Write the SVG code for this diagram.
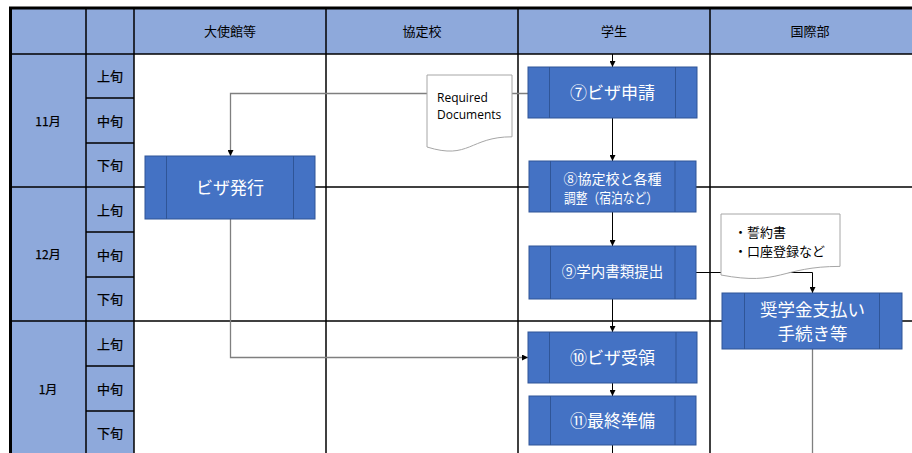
<svg xmlns="http://www.w3.org/2000/svg" width="912" height="453" viewBox="0 0 912 453">
<defs>
<marker id="ah" markerWidth="6" markerHeight="6" refX="6" refY="3" orient="auto" markerUnits="userSpaceOnUse">
<path d="M0,0 L6,3 L0,6 Z" fill="#000"/>
</marker>
<style>
.hdr{fill:#8EA9DB}
.grid{stroke:#000;stroke-width:1.5;fill:none}
.thick{stroke:#000;stroke-width:3;fill:none}
.ht{font-family:"Noto Sans CJK JP","Noto Sans",sans-serif;font-size:13px;fill:#000;text-anchor:middle}
.sub{font-family:"Noto Sans CJK JP","Noto Sans",sans-serif;font-size:13px;fill:#000;text-anchor:middle;stroke:#000;stroke-width:0.25}
.mon{font-family:"Noto Sans CJK JP","Noto Sans",sans-serif;font-size:12px;fill:#000;text-anchor:middle;stroke:#000;stroke-width:0.25}
.box{fill:#4472C4;stroke:#2F5597;stroke-width:1}
.inner{stroke:#2F5597;stroke-width:1}
.bt{font-family:"Noto Sans CJK JP","Noto Sans",sans-serif;fill:#fff;text-anchor:middle}
.doc{fill:#fff;stroke:#A6A6A6;stroke-width:1}
.dt{font-family:"Open Sans","Noto Sans CJK JP",sans-serif;font-size:12px;fill:#000}
.dtj{font-family:"Noto Sans CJK JP",sans-serif;font-size:13px;fill:#000}
.cb{stroke:#000;stroke-width:1;fill:none}
.cg{stroke:#7F7F7F;stroke-width:1.3;fill:none}
</style>
</defs>
<rect width="912" height="453" fill="#fff"/>
<g id="table">
<rect class="hdr" x="10" y="8" width="902" height="46"/>
<rect class="hdr" x="10" y="54" width="124" height="399"/>
<line class="grid" x1="10" y1="54" x2="912" y2="54"/>
<line class="grid" x1="10" y1="187" x2="912" y2="187"/>
<line class="grid" x1="10" y1="321" x2="912" y2="321"/>
<line class="grid" x1="86" y1="98" x2="134" y2="98"/>
<line class="grid" x1="86" y1="143" x2="134" y2="143"/>
<line class="grid" x1="86" y1="232" x2="134" y2="232"/>
<line class="grid" x1="86" y1="277" x2="134" y2="277"/>
<line class="grid" x1="86" y1="366" x2="134" y2="366"/>
<line class="grid" x1="86" y1="411" x2="134" y2="411"/>
<line class="grid" x1="86" y1="8" x2="86" y2="453"/>
<line class="grid" x1="134" y1="8" x2="134" y2="453"/>
<line class="grid" x1="326" y1="8" x2="326" y2="453"/>
<line class="grid" x1="518" y1="8" x2="518" y2="453"/>
<line class="grid" x1="710" y1="8" x2="710" y2="453"/>
<line class="thick" x1="9" y1="8" x2="912" y2="8"/>
<line class="thick" x1="10.5" y1="7" x2="10.5" y2="453"/>
<text class="ht" x="230" y="36">大使館等</text>
<text class="ht" x="422" y="36">協定校</text>
<text class="ht" x="614" y="36">学生</text>
<text class="ht" x="810" y="36">国際部</text>
<text class="mon" x="48" y="126">11月</text>
<text class="mon" x="48" y="259">12月</text>
<text class="mon" x="48" y="394">1月</text>
<text class="sub" x="110" y="81">上旬</text>
<text class="sub" x="110" y="126">中旬</text>
<text class="sub" x="110" y="170">下旬</text>
<text class="sub" x="110" y="215">上旬</text>
<text class="sub" x="110" y="260">中旬</text>
<text class="sub" x="110" y="304">下旬</text>
<text class="sub" x="110" y="349">上旬</text>
<text class="sub" x="110" y="394">中旬</text>
<text class="sub" x="110" y="438">下旬</text>
</g>
<g id="connectors">
<line class="cb" x1="612.5" y1="54" x2="612.5" y2="67" marker-end="url(#ah)"/>
<line class="cb" x1="612.5" y1="118" x2="612.5" y2="161" marker-end="url(#ah)"/>
<line class="cb" x1="612.5" y1="212" x2="612.5" y2="246" marker-end="url(#ah)"/>
<line class="cb" x1="612.5" y1="299" x2="612.5" y2="332" marker-end="url(#ah)"/>
<line class="cb" x1="612.5" y1="383" x2="612.5" y2="396" marker-end="url(#ah)"/>
<line class="cb" x1="612.5" y1="445" x2="612.5" y2="453"/>
<path class="cg" d="M528,93.5 H230.5 V156" marker-end="url(#ah)"/>
<path class="cg" d="M230.5,219 V357.5 H528" marker-end="url(#ah)"/>
<path class="cb" d="M696,272.5 H812.5 V293" marker-end="url(#ah)"/>
<line class="cg" x1="812.5" y1="349" x2="812.5" y2="453"/>
</g>
<g id="doc-required">
<path class="doc" d="M427,75 H512 V136.8 C469.5,136.8 469.5,160.3 427,147 Z"/>
<text class="dt" x="437" y="102">Required</text>
<text class="dt" x="437" y="119">Documents</text>
</g>
<g id="doc-pledge">
<path class="doc" d="M721,214 H840 V266.4 C780.5,266.4 780.5,286.3 721,275 Z"/>
<text class="dtj" x="734" y="237">・誓約書</text>
<text class="dtj" x="734" y="256">・口座登録など</text>
</g>
<g id="visa-issue">
<rect class="box" x="145" y="156" width="170" height="63"/>
<line class="inner" x1="166.5" y1="156" x2="166.5" y2="219"/>
<line class="inner" x1="293.5" y1="156" x2="293.5" y2="219"/>
<text class="bt" x="230" y="194" font-size="17">ビザ発行</text>
</g>
<g id="step7">
<rect class="box" x="528" y="67" width="169" height="51"/>
<line class="inner" x1="549.5" y1="67" x2="549.5" y2="118"/>
<line class="inner" x1="675.5" y1="67" x2="675.5" y2="118"/>
<text class="bt" x="612.5" y="99" font-size="17">⑦ビザ申請</text>
</g>
<g id="step8">
<rect class="box" x="529" y="161" width="167" height="51"/>
<line class="inner" x1="550.5" y1="161" x2="550.5" y2="212"/>
<line class="inner" x1="675" y1="161" x2="675" y2="212"/>
<text class="bt" x="612.5" y="184" font-size="14">⑧協定校と各種</text>
<text class="bt" x="611" y="203" font-size="14" textLength="94" lengthAdjust="spacingAndGlyphs">調整（宿泊など）</text>
</g>
<g id="step9">
<rect class="box" x="529" y="246" width="167" height="53"/>
<line class="inner" x1="550.5" y1="246" x2="550.5" y2="299"/>
<line class="inner" x1="675" y1="246" x2="675" y2="299"/>
<text class="bt" x="612.5" y="277" font-size="14.5">⑨学内書類提出</text>
</g>
<g id="step10">
<rect class="box" x="528" y="332" width="169" height="51"/>
<line class="inner" x1="549.5" y1="332" x2="549.5" y2="383"/>
<line class="inner" x1="676" y1="332" x2="676" y2="383"/>
<text class="bt" x="612.5" y="364" font-size="17">⑩ビザ受領</text>
</g>
<g id="step11">
<rect class="box" x="529" y="396" width="167" height="49"/>
<line class="inner" x1="550.5" y1="396" x2="550.5" y2="445"/>
<line class="inner" x1="675" y1="396" x2="675" y2="445"/>
<text class="bt" x="612.5" y="427" font-size="17">⑪最終準備</text>
</g>
<g id="scholarship">
<rect class="box" x="722" y="293" width="180" height="56"/>
<line class="inner" x1="744.5" y1="293" x2="744.5" y2="349"/>
<line class="inner" x1="879.5" y1="293" x2="879.5" y2="349"/>
<text class="bt" x="812.5" y="316" font-size="17.5">奨学金支払い</text>
<text class="bt" x="812.5" y="340" font-size="17.5">手続き等</text>
</g>
</svg>
